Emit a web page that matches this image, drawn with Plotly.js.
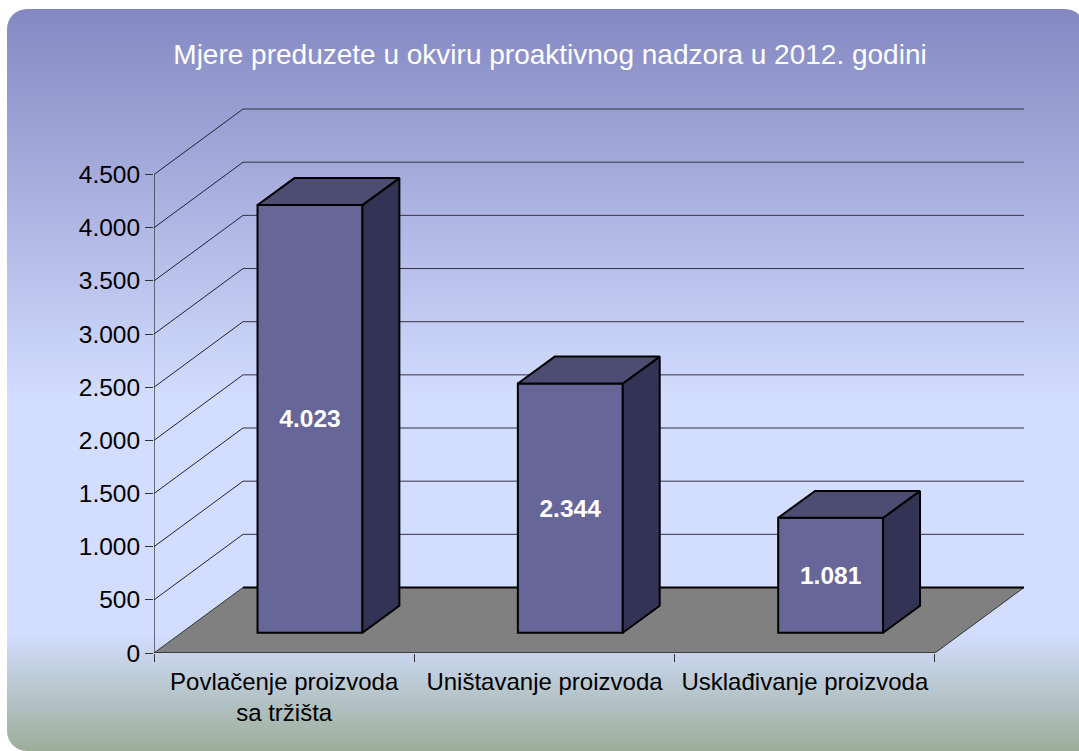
<!DOCTYPE html>
<html><head><meta charset="utf-8">
<script src="https://cdn.plot.ly/plotly-3.0.1.min.js"></script>
<style>
html,body{margin:0;padding:0;background:#fff;width:1079px;height:751px;overflow:hidden}
#bg{position:absolute;left:7px;top:9px;width:1078px;height:742px;border-radius:20px 20px 0 20px;
background:linear-gradient(180deg,#8488c2 0px,#d3ddff 391px,#d3ddff 624px,#9cae9a 742px)}
#chart{position:absolute;left:0;top:0;width:1079px;height:751px}
</style></head><body>
<div id="bg"></div><div id="chart"></div>
<script>
const titleText = 'Mjere preduzete u okviru proaktivnog nadzora u 2012. godini';
const categories = ['Povlačenje proizvoda<br>sa tržišta','Uništavanje proizvoda','Usklađivanje proizvoda'];
const values = [4023, 2344, 1081];
const valueLabels = ['4.023','2.344','1.081'];
const tickVals = [0,500,1000,1500,2000,2500,3000,3500,4000,4500];
const tickLabels = ['0','500','1.000','1.500','2.000','2.500','3.000','3.500','4.000','4.500'];

// oblique projection: full chart depth expressed in axis units
const depthX = 0.3419, depthY = 616;
const barWidth = 0.403;
const frontX = 0.29, frontY = 0.31, backX = 0.705, backY = 0.72;
const catCenters = categories.map((_, i) => i + 0.5);
const yMax = 5201, xMax = 3 + depthX;

const seg = (x0,y0,x1,y1,color,width) => ({type:'line',layer:'below',xref:'x',yref:'y',x0,y0,x1,y1,
  line:{color,width}});
const shapes = [];
// floor
shapes.push({type:'path',layer:'below',xref:'x',yref:'y',
  path:`M0,0 L${depthX},${depthY} L${3+depthX},${depthY} L3,0 Z`,fillcolor:'#808080',line:{color:'#333333',width:1}});
// gridlines on side and back wall
tickVals.forEach(v=>{
  const w = v===0 ? 2 : 1;
  if(v>0) shapes.push(seg(0,v,depthX,v+depthY,'#222233',1));
  shapes.push(seg(depthX,v+depthY,3+depthX,v+depthY,v===0?'#000000':'#333344',w));
});
// axis lines
shapes.push(seg(0,0,0,tickVals[tickVals.length-1],'#000000',1));
shapes.push(seg(0,0,3,0,'#222222',1));

const faces = [];
catCenters.forEach((c,i)=>{
  const L = c + depthX*frontX - barWidth/2, R = L + barWidth;
  const dbx = depthX*(backX-frontX), b0 = depthY*frontY, b1 = depthY*backY;
  const top = values[i] + b0, topB = values[i] + b1;
  faces.push({x:[R,R+dbx,R+dbx,R,R],y:[b0,b1,topB,top,b0],mode:'lines',fill:'toself',fillcolor:'#333355',
    line:{color:'#000000',width:2},hoverinfo:'skip',showlegend:false,cliponaxis:false});
  faces.push({x:[L,L+dbx,R+dbx,R,L],y:[top,topB,topB,top,top],mode:'lines',fill:'toself',fillcolor:'#4d4d73',
    line:{color:'#000000',width:2},hoverinfo:'skip',showlegend:false,cliponaxis:false});
});
const front = {type:'bar',x:catCenters.map(c=>c+depthX*frontX),y:values,base:values.map(()=>depthY*frontY),
  width:barWidth,text:valueLabels,textposition:'inside',insidetextanchor:'middle',textangle:0,
  textfont:{family:'"Liberation Sans",Arial,sans-serif',size:24.5,color:'#ffffff',weight:700},
  marker:{color:'#666699',line:{color:'#000000',width:2}},hoverinfo:'skip',showlegend:false,cliponaxis:false};

const font = {family:'"Liberation Sans",Arial,sans-serif',color:'#000000'};
Plotly.newPlot('chart',[front,...faces],{
  width:1079,height:751,margin:{l:154,r:55,t:100,b:98,pad:0},
  paper_bgcolor:'rgba(0,0,0,0)',plot_bgcolor:'rgba(0,0,0,0)',
  title:{text:titleText,font:{family:font.family,size:28,color:'#ffffff'},x:550/1079,xanchor:'center',xref:'container',
    y:1-54/751,yanchor:'middle',yref:'container'},
  barmode:'overlay',showlegend:false,shapes,
  xaxis:{type:'linear',range:[0,xMax],tickmode:'array',tickvals:catCenters,ticktext:categories,ticks:'',
    tickfont:{...font,size:24},ticklabelstandoff:12,showgrid:false,zeroline:false,showline:false,
    minor:{tickmode:'array',tickvals:[0,1,2,3],ticks:'outside',ticklen:8,tickwidth:1,tickcolor:'#333333',showgrid:false}},
  yaxis:{range:[0,yMax],tickmode:'array',tickvals:tickVals,ticktext:tickLabels,ticks:'outside',ticklen:8,tickwidth:1,
    tickcolor:'#333333',tickfont:{...font,size:24.5},showgrid:false,zeroline:false,showline:false}
},{displayModeBar:false,staticPlot:true});
</script></body></html>
